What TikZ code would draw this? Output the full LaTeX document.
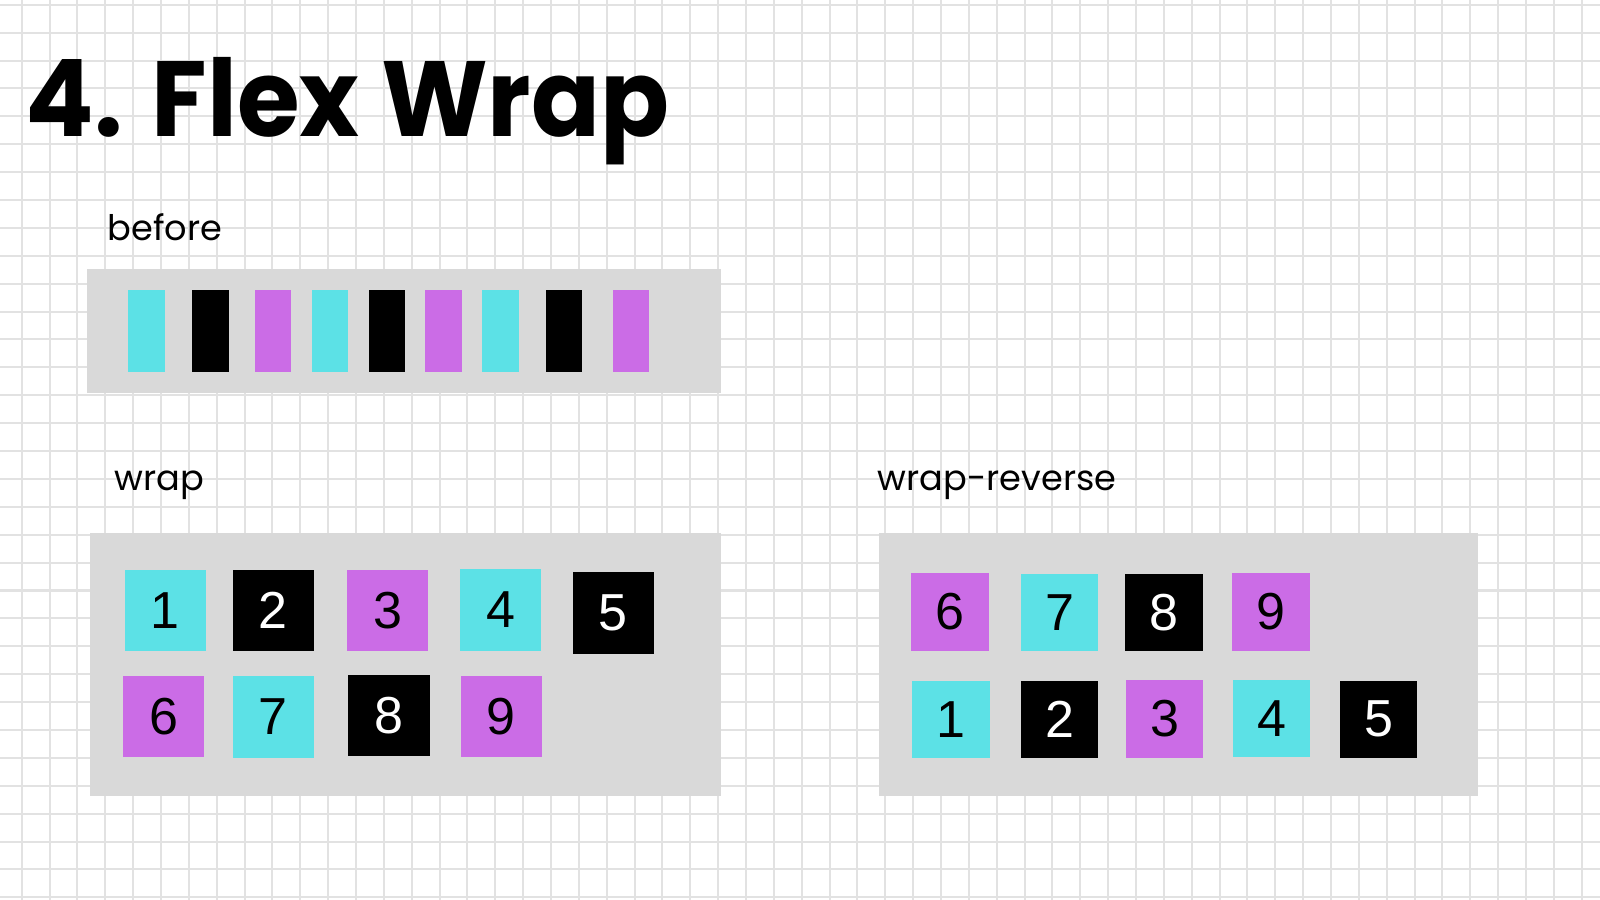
\documentclass[tikz,border=0pt]{standalone}
\usepackage{fontspec}
\setmainfont{Poppins}
\newfontfamily\numfont{Liberation Sans}
\usepackage{xcolor}
\usepackage{tikz}
\usetikzlibrary{positioning}
\definecolor{turquesa}{HTML}{5CE1E6}
\definecolor{lila}{HTML}{CB6CE6}
\definecolor{gris}{HTML}{D9D9D9}
\definecolor{rejilla}{HTML}{E2E2E2}
\newcommand{\Tit}[1]{{\fontsize{30.4}{34}\selectfont\bfseries #1}}
\newcommand{\Et}[1]{{\fontsize{10}{12}\selectfont #1}}

\tikzset{
    celda/.style={inner sep=0pt, minimum width=0.81cm, minimum height=0.81cm, font=\numfont\fontsize{14.8}{16}\selectfont},
    celdar/.style={celda, minimum width=0.775cm, minimum height=0.775cm},
    tq/.style={fill=turquesa, text=black},
    ng/.style={fill=black, text=white},
    li/.style={fill=lila, text=black},
    barra/.style={inner sep=0pt, minimum width=0.365cm, minimum height=0.823cm},
    caja/.style={fill=gris},
    linea/.style={draw=rejilla, line width=0.57pt}
}

\begin{document}
\begin{tikzpicture}[x=0.01cm, y=-0.01cm]
        \useasboundingbox (0,0) rectangle (1600,900);
        \fill[white] (0,0) rectangle (1600,900);
        % Rejilla de fondo
        \foreach \i in {0,...,57} \draw[linea] ({21.7+27.857*\i},0) -- ({21.7+27.857*\i},900);
        \foreach \j in {0,...,32} \draw[linea] (0,{4.8+27.89*\j}) -- (1600,{4.8+27.89*\j});
        % Título
        \node[anchor=base west, inner sep=0pt, xscale=0.95] (titulo) at (25,136.7) {\Tit{4. Flex Wrap}};
        % Caja 'before'
        \node[anchor=base west, inner sep=0pt] (tbefore) at (107,240) {\Et{before}};
        \fill[caja] (86.9,269) rectangle (720.7,393.3);
        \node[barra, tq] (b1) at (146.3,331.2) {};
        \node[barra, ng] (b2) at (210.3,331.2) {};
        \node[barra, li] (b3) at (272.9,331.2) {};
        \node[barra, tq] (b4) at (329.8,331.2) {};
        \node[barra, ng] (b5) at (387,331.2) {};
        \node[barra, li] (b6) at (443.3,331.2) {};
        \node[barra, tq] (b7) at (500.6,331.2) {};
        \node[barra, ng] (b8) at (564,331.2) {};
        \node[barra, li] (b9) at (630.9,331.2) {};
        % Caja 'wrap'
        \node[anchor=base west, inner sep=0pt] (twrap) at (114,490) {\Et{wrap}};
        \fill[caja] (89.8,532.7) rectangle (720.7,796);
        \node[celda, tq] (w1) at (165.3,610.3) {1};
        \node[celda, ng] (w2) at (273.1,610.3) {2};
        \node[celda, li] (w3) at (387.5,610.3) {3};
        \node[celda, tq] (w4) at (500.8,610) {4};
        \node[celda, ng] (w5) at (613.1,613) {5};
        \node[celda, li] (w6) at (163.9,716.2) {6};
        \node[celda, tq] (w7) at (273.1,717) {7};
        \node[celda, ng] (w8) at (389,715.3) {8};
        \node[celda, li] (w9) at (501.2,716.2) {9};
        % Caja 'wrap-reverse'
        \node[anchor=base west, inner sep=0pt] (treverse) at (877,490) {\Et{wrap-reverse}};
        \fill[caja] (878.7,532.7) rectangle (1477.7,796);
        \node[celdar, li] (r6) at (950.2,612) {6};
        \node[celdar, tq] (r7) at (1059.5,612.3) {7};
        \node[celdar, ng] (r8) at (1164,612.3) {8};
        \node[celdar, li] (r9) at (1271,612) {9};
        \node[celdar, tq] (r1) at (950.8,719.3) {1};
        \node[celdar, ng] (r2) at (1059.7,719.3) {2};
        \node[celdar, li] (r3) at (1164.5,718.8) {3};
        \node[celdar, tq] (r4) at (1271.5,718.3) {4};
        \node[celdar, ng] (r5) at (1378.5,719.3) {5};
    \end{tikzpicture}
\end{document}
